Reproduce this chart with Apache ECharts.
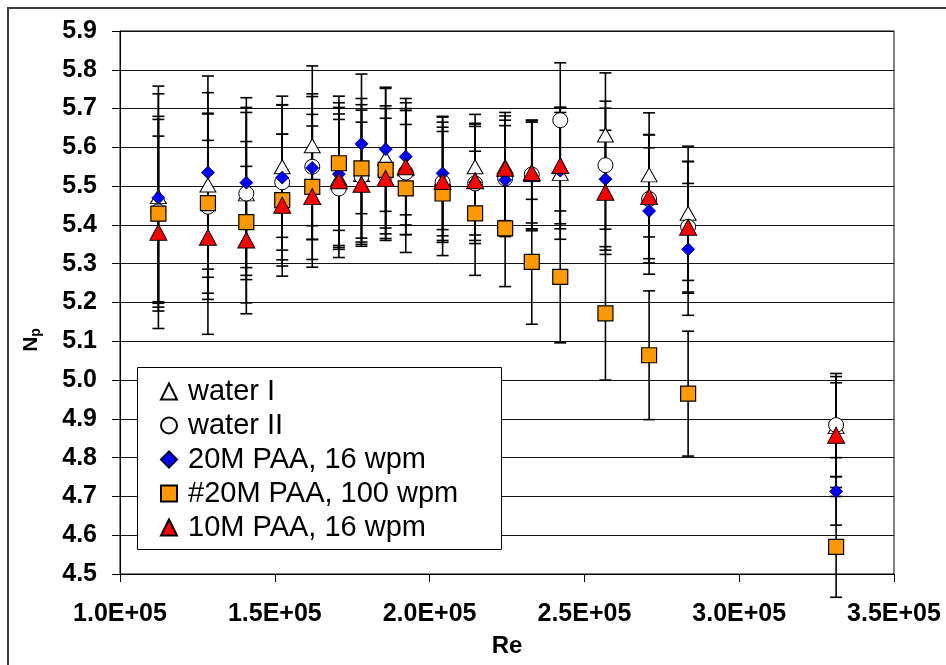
<!DOCTYPE html>
<html>
<head>
<meta charset="utf-8">
<title>Np vs Re</title>
<script src="https://cdn.jsdelivr.net/npm/echarts@6/dist/echarts.min.js"></script>
<style>
  html, body { margin: 0; padding: 0; background: #fff; }
  #chart { width: 946px; height: 665px; }
</style>
</head>
<body>
<div id="chart"></div>
<script>
// Reynolds numbers of the measurement points
const reValues = [112400, 128400, 140800, 152400, 162100, 170700, 178000, 185800, 192300,
                  204200, 214700, 224400, 233000, 242200, 256800, 270900, 283500, 331300];

// Power number Np for each fluid, with the half-width of its error bar
const waterI    = [5.473, 5.503, 5.480, 5.550, 5.604, 5.520, 5.530, 5.572, 5.545,
                   5.520, 5.550, 5.550, 5.530, 5.533, 5.632, 5.529, 5.430, 4.880];
const waterIErr = [0.285, 0.238, 0.210, 0.182, 0.206, 0.183, 0.180, 0.180, 0.170,
                   0.160, 0.135, 0.140, 0.140, 0.170, 0.160, 0.160, 0.173, 0.129];

const waterII    = [5.435, 5.447, 5.481, 5.510, 5.550, 5.494, 5.526, 5.530, 5.535,
                    5.510, 5.507, 5.520, 5.530, 5.670, 5.554, 5.467, 5.395, 4.884];
const waterIIErr = [0.237, 0.239, 0.222, 0.200, 0.188, 0.178, 0.170, 0.170, 0.160,
                    0.155, 0.155, 0.150, 0.140, 0.148, 0.165, 0.165, 0.168, 0.133];

const paa20m16    = [5.470, 5.535, 5.509, 5.522, 5.547, 5.531, 5.609, 5.595, 5.576,
                     5.533, 5.510, 5.516, 5.525, 5.540, 5.518, 5.436, 5.337, 4.713];
const paa20m16Err = [0.268, 0.249, 0.219, 0.187, 0.184, 0.184, 0.180, 0.160, 0.150,
                     0.145, 0.150, 0.140, 0.140, 0.150, 0.183, 0.163, 0.170, 0.087];

const paa20m100    = [5.429, 5.456, 5.407, 5.464, 5.498, 5.559, 5.546, 5.542, 5.494,
                      5.481, 5.430, 5.391, 5.305, 5.266, 5.172, 5.064, 4.965, 4.570];
const paa20m100Err = [0.251, 0.232, 0.208, 0.170, 0.187, 0.173, 0.180, 0.165, 0.165,
                      0.160, 0.160, 0.150, 0.161, 0.170, 0.172, 0.166, 0.161, 0.130];

const paa10m16    = [5.381, 5.368, 5.361, 5.451, 5.473, 5.514, 5.505, 5.520, 5.550,
                     5.512, 5.514, 5.546, 5.535, 5.553, 5.484, 5.473, 5.394, 4.858];
const paa10m16Err = [0.248, 0.250, 0.190, 0.183, 0.182, 0.172, 0.160, 0.155, 0.150,
                     0.140, 0.140, 0.135, 0.130, 0.150, 0.160, 0.160, 0.170, 0.135];

const seriesNames = ['water I', 'water II', '20M PAA, 16 wpm', '#20M PAA, 100 wpm', '10M PAA, 16 wpm'];

const FONT = "'Liberation Sans', Arial, sans-serif";

function points(vals) {
  return reValues.map((r, i) => [r, vals[i]]);
}
function bars(vals, errs) {
  return reValues.map((r, i) => [r, vals[i] - errs[i], vals[i] + errs[i]]);
}

// vertical error bar with caps at both ends
function renderErrorBar(params, api) {
  const x = api.value(0);
  const lo = api.coord([x, api.value(1)]);
  const hi = api.coord([x, api.value(2)]);
  const half = 6;
  const style = { stroke: '#000', lineWidth: 1.6, fill: null };
  return {
    type: 'group',
    children: [
      { type: 'line', shape: { x1: lo[0], y1: lo[1], x2: hi[0], y2: hi[1] }, style: style },
      { type: 'line', shape: { x1: lo[0] - half, y1: lo[1], x2: lo[0] + half, y2: lo[1] }, style: style },
      { type: 'line', shape: { x1: hi[0] - half, y1: hi[1], x2: hi[0] + half, y2: hi[1] }, style: style }
    ]
  };
}

function errorSeries(id, vals, errs) {
  return {
    type: 'custom',
    name: 'err-' + id,
    renderItem: renderErrorBar,
    data: bars(vals, errs),
    encode: { x: 0, y: [1, 2] },
    z: 2,
    silent: true
  };
}

function markerSeries(name, vals, symbol, size, fill, border, borderWidth) {
  return {
    type: 'scatter',
    name: name,
    data: points(vals),
    symbol: symbol,
    symbolSize: size,
    itemStyle: { color: fill, borderColor: border, borderWidth: borderWidth, opacity: 1 },
    z: 3
  };
}

const chart = echarts.init(document.getElementById('chart'), null, { renderer: 'canvas' });

const option = {
  backgroundColor: '#fff',
  animation: false,
  grid: {
    left: 120, right: 52, top: 31, bottom: 91,
    show: true, borderColor: '#000', borderWidth: 1,
    containLabel: false, outerBoundsMode: 'none'
  },
  xAxis: {
    type: 'value',
    min: 100000, max: 350000, interval: 50000,
    axisLine: { show: true, onZero: false, lineStyle: { color: '#000', width: 1 } },
    axisTick: { show: true, inside: false, length: 8, lineStyle: { color: '#000', width: 1 } },
    splitLine: { show: false },
    axisLabel: {
      margin: 28,
      color: '#000', fontFamily: FONT, fontWeight: 'bold', fontSize: 25,
      formatter: v => (v / 100000).toFixed(1) + 'E+05'
    },
    name: 'Re',
    nameLocation: 'middle',
    nameGap: 60,
    nameTextStyle: { color: '#000', fontFamily: FONT, fontWeight: 'bold', fontSize: 24 }
  },
  yAxis: {
    type: 'value',
    min: 4.5, max: 5.9, interval: 0.1,
    axisLine: { show: true, onZero: false, lineStyle: { color: '#000', width: 1 } },
    axisTick: { show: true, inside: false, length: 8, lineStyle: { color: '#000', width: 1 } },
    splitLine: { show: true, lineStyle: { color: '#111', width: 1 } },
    axisLabel: {
      margin: 23,
      color: '#000', fontFamily: FONT, fontWeight: 'bold', fontSize: 25,
      formatter: v => v.toFixed(1)
    }
  },
  legend: {
    data: seriesNames,
    orient: 'vertical',
    left: 160,
    top: 377,
    itemGap: 5,
    itemWidth: 16,
    itemHeight: 16,
    padding: 0,
    selectedMode: false,
    z: 6,
    textStyle: {
      color: '#000', fontFamily: FONT, fontSize: 29, lineHeight: 29,
      padding: [0, 0, 0, 6]
    }
  },
  graphic: [
    // outer chart frame
    {
      type: 'rect', z: 10, silent: true,
      shape: { x: 8, y: 8, width: 1000, height: 1000 },
      style: { fill: null, stroke: '#3a3a3a', lineWidth: 2 }
    },
    // legend box
    {
      type: 'rect', z: 4, silent: true,
      shape: { x: 137.5, y: 367.5, width: 364, height: 182 },
      style: { fill: '#fff', stroke: '#000', lineWidth: 1 }
    },
    // y-axis title: N with subscript p
    {
      type: 'text', z: 5, silent: true,
      x: 31, y: 340, rotation: Math.PI / 2,
      style: {
        text: '{n|N}{s|p}',
        align: 'center', verticalAlign: 'middle',
        rich: {
          n: { fontFamily: FONT, fontWeight: 'bold', fontSize: 21, fill: '#000' },
          s: { fontFamily: FONT, fontWeight: 'bold', fontSize: 14, fill: '#000', padding: [10, 0, 0, 0] }
        }
      }
    }
  ],
  series: [
    errorSeries('waterI', waterI, waterIErr),
    errorSeries('waterII', waterII, waterIIErr),
    errorSeries('paa20m16', paa20m16, paa20m16Err),
    errorSeries('paa20m100', paa20m100, paa20m100Err),
    errorSeries('paa10m16', paa10m16, paa10m16Err),
    markerSeries(seriesNames[0], waterI, 'triangle', [16, 14], '#fff', '#000', 1),
    markerSeries(seriesNames[1], waterII, 'circle', 15, '#fff', '#000', 1),
    markerSeries(seriesNames[2], paa20m16, 'diamond', 13, '#0000ff', '#000033', 0.8),
    markerSeries(seriesNames[3], paa20m100, 'rect', 15, '#ff9900', '#000', 1.2),
    markerSeries(seriesNames[4], paa10m16, 'triangle', [17, 16], '#ff0000', '#000', 1)
  ]
};

chart.setOption(option);
</script>
</body>
</html>
